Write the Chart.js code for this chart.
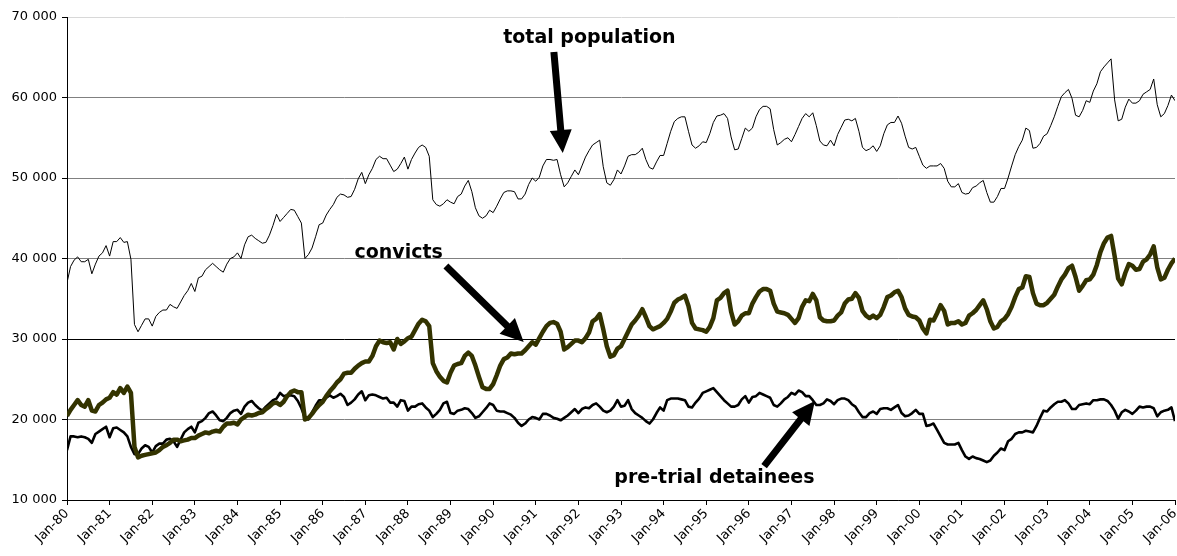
<!DOCTYPE html>
<html>
<head>
<meta charset="utf-8">
<script src="https://cdn.jsdelivr.net/npm/chart.js@4.4.1/dist/chart.umd.min.js"></script>
<style>
  html, body { margin: 0; padding: 0; background: #fff; }
  #wrap { width: 1177px; height: 556px; }
</style>
</head>
<body>
<div id="wrap"><canvas id="prisonChart" width="1177" height="556"></canvas></div>
<script>
// monthly values, Jan-80 .. Jan-06 (313 months)
const totalPopulation = [
    37000, 39000, 39800, 40200, 39600, 39600, 39900, 38100, 39300, 40300, 40700, 41600,
    40300, 42100, 42100, 42600, 42000, 42100, 39900, 31800, 30900, 31700, 32500, 32500,
    31600, 32800, 33300, 33600, 33600, 34300, 34000, 33800, 34600, 35400, 36000, 36900,
    35900, 37600, 37800, 38600, 39000, 39400, 39000, 38600, 38300, 39300, 40000, 40200,
    40700, 40000, 41700, 42700, 42900, 42500, 42200, 41900, 42000, 42900, 44100, 45500,
    44600, 45100, 45600, 46100, 46000, 45200, 44400, 40000, 40500, 41300, 42700, 44200,
    44400, 45400, 46100, 46700, 47600, 48000, 47900, 47600, 47700, 48600, 49900, 50700,
    49300, 50400, 51200, 52300, 52700, 52400, 52400, 51600, 50800, 51100, 51800, 52600,
    51100, 52300, 53100, 53800, 54100, 53800, 52700, 47300, 46700, 46500, 46800, 47300,
    47000, 46800, 47700, 48000, 49000, 49700, 48300, 46300, 45300, 45000, 45300, 46000,
    45700, 46500, 47400, 48200, 48400, 48400, 48300, 47400, 47400, 48000, 49200, 50000,
    49600, 50100, 51500, 52300, 52300, 52200, 52300, 50400, 48900, 49400, 50200, 51000,
    50400, 51500, 52600, 53400, 54100, 54400, 54700, 51400, 49400, 49100, 49800, 51000,
    50500, 51500, 52700, 52900, 52900, 53200, 53700, 52300, 51300, 51100, 52000, 52800,
    52800, 54300, 55800, 57000, 57400, 57600, 57600, 55800, 54100, 53700, 54000, 54500,
    54400, 55500, 56900, 57700, 57800, 58000, 57400, 55100, 53500, 53600, 54900, 56200,
    55800, 56200, 57600, 58500, 58900, 58900, 58600, 56000, 54100, 54400, 54800, 55000,
    54500, 55400, 56400, 57400, 58000, 57600, 58100, 56500, 54600, 54100, 54000, 54700,
    54000, 55400, 56300, 57200, 57300, 57100, 57400, 55800, 53800, 53400, 53600, 54000,
    53300, 54000, 55500, 56600, 56900, 56900, 57700, 56800, 55200, 53800, 53600, 53800,
    52700, 51600, 51200, 51500, 51500, 51500, 51800, 51200, 49600, 48900, 48900, 49300,
    48200, 48000, 48100, 48800, 49000, 49400, 49700, 48200, 47000, 47000, 47700, 48700,
    48700, 50000, 51500, 52900, 53900, 54700, 56200, 55900, 53700, 53800, 54300, 55200,
    55500, 56500, 57600, 58900, 60100, 60600, 61000, 59900, 57800, 57600, 58400, 59600,
    59400, 60800, 61700, 63200, 63800, 64300, 64800, 59700, 57100, 57300, 58800, 59800,
    59300, 59300, 59600, 60400, 60700, 61000, 62300, 59100, 57600, 58000, 59000, 60300,
    59600
];

const convicts = [
    20450, 21200, 21800, 22400, 21800, 21600, 22400, 21100, 21000, 21800, 22100, 22500,
    22700, 23400, 23100, 23900, 23300, 24100, 23300, 16600, 15300, 15500, 15600, 15700,
    15800, 15900, 16200, 16600, 16800, 17100, 17500, 17500, 17300, 17400, 17500, 17700,
    17700, 18000, 18200, 18400, 18300, 18500, 18600, 18500, 19100, 19500, 19500, 19600,
    19400, 20000, 20300, 20600, 20500, 20600, 20800, 20900, 21300, 21600, 22000, 22100,
    21800, 22200, 22900, 23400, 23600, 23400, 23400, 20000, 20200, 20700, 21300, 21800,
    22200, 22900, 23500, 24000, 24600, 25000, 25700, 25800, 25800, 26300, 26700, 27000,
    27200, 27200, 27900, 29100, 29800, 29600, 29500, 29600, 28700, 30000, 29400, 29700,
    30100, 30300, 31100, 31900, 32400, 32200, 31600, 27000, 26000, 25300, 24800, 24600,
    25800, 26700, 26900, 27000, 27900, 28300, 27900, 26700, 25300, 24000, 23800, 23800,
    24400, 25500, 26700, 27500, 27700, 28200, 28100, 28200, 28200, 28600, 29100, 29600,
    29300, 30100, 30900, 31600, 32000, 32100, 31900, 30900, 28700, 29000, 29400, 29800,
    29800, 29600, 30100, 30800, 32200, 32500, 33100, 31200, 29100, 27800, 28000, 28800,
    29100, 30000, 30900, 31800, 32300, 32900, 33700, 32700, 31600, 31200, 31400, 31600,
    32000, 32500, 33400, 34500, 34900, 35100, 35400, 34100, 32000, 31300, 31200, 31100,
    30900, 31500, 32600, 34800, 35100, 35700, 36000, 33400, 31800, 32200, 32900, 33200,
    33200, 34400, 35200, 35900, 36200, 36200, 36000, 34400, 33400, 33300, 33200, 33000,
    32500, 32000, 32600, 34000, 34800, 34700, 35600, 34800, 32700, 32300, 32200, 32200,
    32300, 32900, 33300, 34400, 34900, 35000, 35700, 35100, 33500, 32900, 32600, 32900,
    32600, 33000, 34000, 35200, 35400, 35800, 36000, 35200, 33800, 33000, 32800, 32700,
    32300, 31300, 30700, 32400, 32300, 33200, 34200, 33500, 31800, 32000, 32000, 32200,
    31800, 32000, 32900, 33200, 33600, 34200, 34800, 33700, 32200, 31300, 31500, 32200,
    32500, 33100, 34000, 35200, 36200, 36400, 37800, 37700, 35700, 34400, 34200, 34200,
    34500, 35000, 35500, 36500, 37400, 38000, 38800, 39100, 37700, 36000, 36600, 37300,
    37400, 38000, 39200, 40800, 41900, 42600, 42800, 40300, 37500, 36800, 38200, 39300,
    39100, 38600, 38700, 39600, 39900, 40500, 41500, 38900, 37400, 37600, 38600, 39400,
    40000
];

const pretrialDetainees = [
    16200, 17900, 17900, 17800, 17900, 17800, 17600, 17100, 18200, 18500, 18800, 19100,
    17800, 18900, 19000, 18700, 18400, 17900, 16600, 15700, 15700, 16400, 16800, 16600,
    15900, 16700, 17000, 17000, 17500, 17600, 17300, 16600, 17500, 18400, 18800, 19100,
    18400, 19600, 19800, 20200, 20800, 21000, 20500, 19900, 19800, 20200, 20800, 21100,
    21200, 20700, 21600, 22100, 22300, 21800, 21400, 21100, 21600, 22000, 22400, 22600,
    23300, 22900, 23000, 23000, 22900, 22300, 21400, 20200, 20000, 20900, 21700, 22400,
    22400, 22700, 23000, 22700, 22900, 23200, 22800, 21800, 22100, 22500, 23100, 23500,
    22400, 23000, 23100, 23000, 22800, 22600, 22700, 22100, 22100, 21600, 22400, 22300,
    21100, 21600, 21600, 21900, 22000, 21500, 21100, 20300, 20700, 21200, 22000, 22200,
    20800, 20700, 21100, 21200, 21400, 21300, 20800, 20200, 20400, 20900, 21400, 22000,
    21800, 21100, 21000, 21000, 20800, 20600, 20200, 19600, 19200, 19500, 20000, 20300,
    20200, 20000, 20700, 20700, 20500, 20200, 20100, 19900, 20200, 20500, 20900, 21300,
    20800, 21300, 21500, 21400, 21800, 22000, 21600, 21100, 20900, 21100, 21600, 22400,
    21600, 21700, 22400, 21300, 20800, 20500, 20200, 19800, 19500, 20000, 20800, 21500,
    21100, 22400, 22600, 22600, 22600, 22500, 22400, 21600, 21500, 22100, 22600, 23300,
    23500, 23700, 23900, 23400, 22900, 22400, 22000, 21600, 21600, 21800, 22500, 22900,
    22100, 22800, 22900, 23300, 23100, 22900, 22700, 21800, 21600, 22000, 22500, 22800,
    23300, 23100, 23600, 23400, 22900, 22900, 22400, 21800, 21800, 22000, 22500, 22300,
    21900, 22400, 22600, 22600, 22400, 21900, 21600, 20900, 20300, 20300, 20800, 21000,
    20700, 21300, 21400, 21400, 21200, 21500, 21800, 20800, 20400, 20500, 20800, 21200,
    20700, 20700, 19200, 19300, 19500, 18700, 17900, 17100, 16900, 16900, 16900, 17100,
    16200, 15400, 15100, 15400, 15200, 15100, 14900, 14700, 14900, 15500, 15900, 16400,
    16200, 17300, 17600, 18200, 18400, 18400, 18600, 18500, 18400, 19200, 20200, 21100,
    21000, 21500, 21900, 22200, 22200, 22400, 22000, 21300, 21300, 21800, 21900, 22000,
    21900, 22400, 22400, 22500, 22500, 22300, 21800, 21100, 20100, 20900, 21200, 21000,
    20700, 21100, 21600, 21500, 21600, 21600, 21400, 20400, 20900, 21100, 21200, 21500,
    19800
];

const yearLabels = [
    "Jan-80", "Jan-81", "Jan-82", "Jan-83", "Jan-84", "Jan-85", "Jan-86", "Jan-87", "Jan-88",
    "Jan-89", "Jan-90", "Jan-91", "Jan-92", "Jan-93", "Jan-94", "Jan-95", "Jan-96", "Jan-97",
    "Jan-98", "Jan-99", "Jan-00", "Jan-01", "Jan-02", "Jan-03", "Jan-04", "Jan-05", "Jan-06"
];

// annotations: text anchor / arrow tail and tip in data units (month index, persons)
const notes = [
    { text: "total population", at: [147.1, 66770], tail: [137.1, 65650], tip: [139.6, 53100] },
    { text: "convicts", at: [93.4, 40060], tail: [106.7, 39070], tip: [128.6, 29630] },
    { text: "pre-trial detainees", at: [182.3, 12110], tail: [196.3, 14220], tip: [210.6, 22300] }
];

const FONT = "'DejaVu Sans', Verdana, sans-serif";

function toPoints(arr) {
    return arr.map((v, i) => ({ x: i, y: v }));
}

function drawArrow(ctx, x1, y1, x2, y2) {
    const shaft = 3.5, head = 11, headLen = 23;
    const ang = Math.atan2(y2 - y1, x2 - x1);
    const len = Math.hypot(x2 - x1, y2 - y1);
    ctx.save();
    ctx.translate(x1, y1);
    ctx.rotate(ang);
    ctx.beginPath();
    ctx.moveTo(0, -shaft);
    ctx.lineTo(len - headLen, -shaft);
    ctx.lineTo(len - headLen, -head);
    ctx.lineTo(len, 0);
    ctx.lineTo(len - headLen, head);
    ctx.lineTo(len - headLen, shaft);
    ctx.lineTo(0, shaft);
    ctx.closePath();
    ctx.fillStyle = "#000";
    ctx.fill();
    ctx.restore();
}

const notesPlugin = {
    id: "notes",
    afterDatasetsDraw(chart) {
        const ctx = chart.ctx;
        const xs = chart.scales.x, ys = chart.scales.y;
        ctx.save();
        ctx.font = "bold 19px " + FONT;
        ctx.fillStyle = "#000";
        ctx.textAlign = "center";
        ctx.textBaseline = "alphabetic";
        notes.forEach(n => {
            ctx.fillText(n.text, xs.getPixelForValue(n.at[0]), ys.getPixelForValue(n.at[1]));
            drawArrow(ctx,
                xs.getPixelForValue(n.tail[0]), ys.getPixelForValue(n.tail[1]),
                xs.getPixelForValue(n.tip[0]), ys.getPixelForValue(n.tip[1]));
        });
        ctx.restore();
    }
};

const ctx = document.getElementById("prisonChart");
new Chart(ctx, {
    type: "line",
    data: {
        datasets: [
            {
                label: "convicts",
                data: toPoints(convicts),
                borderColor: "#333300",
                borderWidth: 4.5,
                borderJoinStyle: "round",
                pointRadius: 0,
                tension: 0,
            },
            {
                label: "pre-trial detainees",
                data: toPoints(pretrialDetainees),
                borderColor: "#000",
                borderWidth: 2.6,
                borderJoinStyle: "round",
                pointRadius: 0,
                tension: 0,
            },
            {
                label: "total population",
                data: toPoints(totalPopulation),
                borderColor: "#000",
                borderWidth: 1,
                pointRadius: 0,
                tension: 0,
            },
        ],
    },
    options: {
        responsive: false,
        animation: false,
        layout: { padding: { top: 17, right: 2, left: 0, bottom: 0 } },
        plugins: {
            legend: { display: false },
            tooltip: { enabled: false },
        },
        scales: {
            x: {
                type: "linear",
                min: 0,
                max: 312,
                afterFit: (scale) => {
                    scale.height = 56;
                    scale.paddingRight = 0;
                    scale.paddingLeft = 0;
                },
                afterBuildTicks: (scale) => {
                    scale.ticks = yearLabels.map((_, i) => ({ value: i * 12 }));
                },
                ticks: {
                    autoSkip: false,
                    minRotation: 45,
                    maxRotation: 45,
                    padding: 1,
                    color: "#000",
                    font: { family: FONT, size: 13 },
                    callback: (v) => yearLabels[v / 12],
                },
                grid: {
                    drawOnChartArea: false,
                    drawTicks: true,
                    tickLength: 5,
                    tickColor: "#000",
                },
                border: { color: "#000", width: 1 },
            },
            y: {
                min: 10000,
                max: 70000,
                afterFit: (scale) => { scale.width = 67; },
                ticks: {
                    stepSize: 10000,
                    padding: 5,
                    color: "#000",
                    font: { family: FONT, size: 13 },
                    callback: (v) => (v / 1000) + " 000",
                },
                grid: {
                    color: (c) => c.tick && c.tick.value === 70000 ? "#d8d8d8"
                        : (c.tick && c.tick.value === 30000 ? "#000" : "#808080"),
                    tickLength: 5,
                    tickColor: "#000",
                },
                border: { color: "#000", width: 1 },
            },
        },
    },
    plugins: [notesPlugin],
});
</script>
</body>
</html>
